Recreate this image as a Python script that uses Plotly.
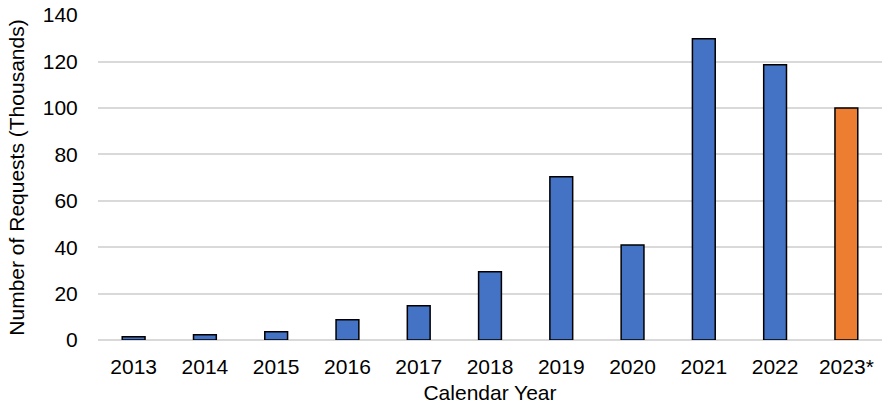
import plotly.graph_objects as go

years = ["2013", "2014", "2015", "2016", "2017", "2018", "2019", "2020", "2021", "2022", "2023*"]
requests = [1.4, 2.3, 3.6, 8.7, 14.8, 29.4, 70.4, 40.9, 129.8, 118.6, 100.0]
colors = ["#4472C4"] * 10 + ["#ED7D31"]

fig = go.Figure(go.Bar(
    x=years, y=requests,
    marker=dict(color=colors, line=dict(color="black", width=1.5)),
))

font = "Liberation Sans, Arial, sans-serif"
fig.update_layout(
    width=882, height=407,
    margin=dict(l=98, r=0, t=15, b=67, autoexpand=False),
    paper_bgcolor="white", plot_bgcolor="white",
    bargap=0.68,
    font=dict(family=font, size=21, color="black"),
    showlegend=False,
)
fig.update_xaxes(
    type="category", automargin=False,
    showgrid=False, showline=False, zeroline=False,
    ticks="outside", ticklen=8, tickcolor="rgba(0,0,0,0)",
    tickfont=dict(size=21),
    title=dict(text="Calendar Year", font=dict(size=21), standoff=8),
)
fig.update_yaxes(
    range=[0, 140.05], tickmode="linear", tick0=0, dtick=20, automargin=False,
    ticklabeloverflow="allow",
    showgrid=True, gridcolor="#D9D9D9", gridwidth=1.5,
    zeroline=True, zerolinecolor="#D9D9D9", zerolinewidth=1.5,
    showline=False,
    ticks="outside", ticklen=15, tickcolor="rgba(0,0,0,0)",
    tickfont=dict(size=21),
    title=dict(text="Number of Requests (Thousands)", font=dict(size=21), standoff=12),
)

# remove the browser's default 8px page margin so the figure fills the window
fig.write_html(
    "out.html",
    config={"displayModeBar": False},
    post_script="document.body.style.margin='0';document.body.style.overflow='hidden';",
)
